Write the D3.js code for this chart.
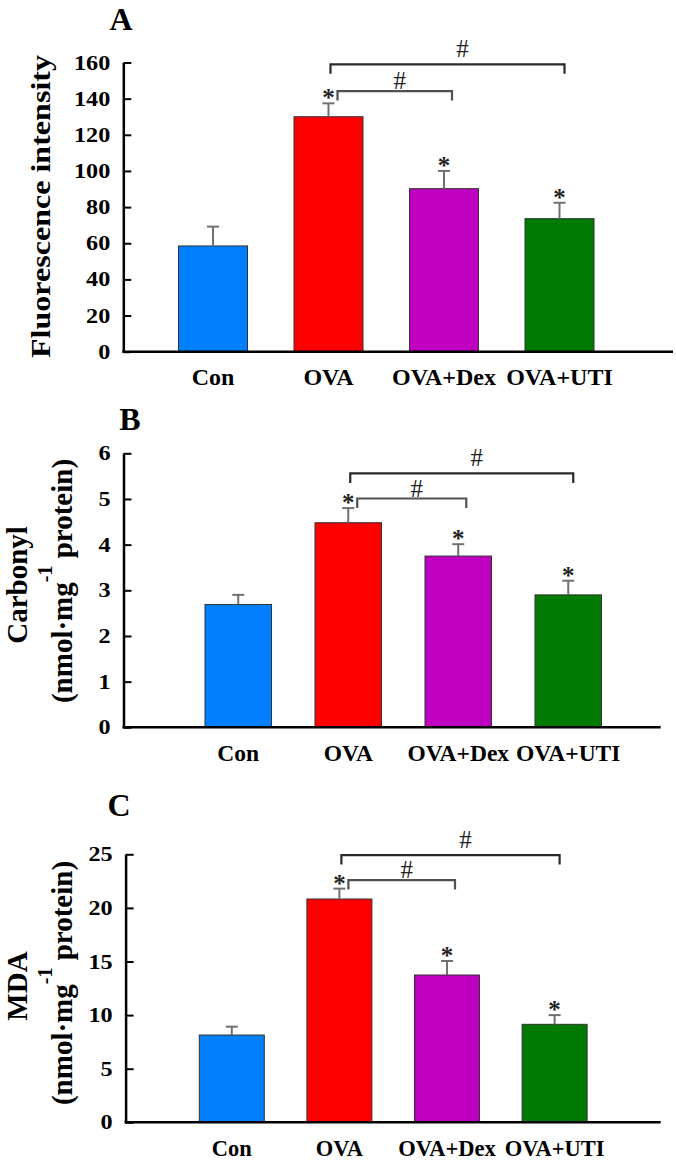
<!DOCTYPE html>
<html>
<head>
<meta charset="utf-8">
<script src="https://cdn.jsdelivr.net/npm/d3@7"></script>
<style>
  html, body { margin: 0; padding: 0; background: #fff; }
  svg { display: block; }
  text { font-family: "Liberation Serif", "Times New Roman", serif; }
</style>
</head>
<body>
<svg id="chart" width="676" height="1160"></svg>
<script>
// ---- data ----
const categories = ["Con", "OVA", "OVA+Dex", "OVA+UTI"];
const barColors = ["#0080ff", "#ff0000", "#c000c0", "#007a00"];

const fluorescence    = [58.5, 130.0, 90.2, 73.6];
const fluorescenceErr = [10.7, 7.4, 9.8, 8.8];
const fluorescenceTicks = [0, 20, 40, 60, 80, 100, 120, 140, 160];

const carbonyl    = [2.69, 4.48, 3.75, 2.90];
const carbonylErr = [0.21, 0.32, 0.26, 0.31];
const carbonylTicks = [0, 1, 2, 3, 4, 5, 6];

const mda    = [8.14, 20.83, 13.74, 9.14];
const mdaErr = [0.78, 0.97, 1.31, 0.86];
const mdaTicks = [0, 5, 10, 15, 20, 25];

// significance marks: "*" vs Con on groups; "#" brackets vs OVA
const starGroups = ["OVA", "OVA+Dex", "OVA+UTI"];
const brackets = [
  { from: "OVA", to: "OVA+UTI", level: "outer" },
  { from: "OVA", to: "OVA+Dex", level: "inner" }
];
const fluorescenceBracketLevels = { outer: 159.0, inner: 144.2 };
const carbonylBracketLevels     = { outer: 5.56, inner: 5.01 };
const mdaBracketLevels          = { outer: 24.93, inner: 22.6 };

// ---- layout ----
const panels = [
  { letter: "A", letterX: 121, letterY: 30,
    values: fluorescence, errs: fluorescenceErr, ticks: fluorescenceTicks, yMax: 160,
    bl: fluorescenceBracketLevels, xFont: 24,
    axisX: 123.3, xEnd: 673, yTop: 62.5, y0: 351.7,
    barL: 178.5, bw: 69, step: 115.5,
    ylabel: [{ text: "Fluorescence intensity", x: 50, y: 206.5, len: 303 }] },
  { letter: "B", letterX: 130, letterY: 430,
    values: carbonyl, errs: carbonylErr, ticks: carbonylTicks, yMax: 6,
    bl: carbonylBracketLevels, xFont: 23.5,
    axisX: 123.5, xEnd: 660.7, yTop: 453.3, y0: 727.3,
    barL: 205, bw: 66.5, step: 110,
    ylabel: [{ text: "Carbonyl", x: 27, y: 585 }, { unit: true, x: 72, y: 581 }] },
  { letter: "C", letterX: 119, letterY: 816,
    values: mda, errs: mdaErr, ticks: mdaTicks, yMax: 25,
    bl: mdaBracketLevels, xFont: 22.5,
    axisX: 125.6, xEnd: 660.7, yTop: 854.3, y0: 1122.3,
    barL: 199.3, bw: 65, step: 107.6,
    ylabel: [{ text: "MDA", x: 27, y: 986 }, { unit: true, x: 72, y: 983 }] }
];

const svg = d3.select("#chart");

panels.forEach(p => {
  const g = svg.append("g");
  const y = d3.scaleLinear().domain([0, p.yMax]).range([p.y0, p.yTop]);
  const pi = 1 - p.bw / p.step;
  const barR = p.barL + 3 * p.step + p.bw;
  const x = d3.scaleBand().domain(categories)
    .range([p.barL - (p.step - p.bw) / 2, barR + (p.step - p.bw) / 2])
    .paddingInner(pi).paddingOuter(pi / 2);
  const cx = c => x(c) + x.bandwidth() / 2;

  // panel letter
  g.append("text").attr("x", p.letterX).attr("y", p.letterY)
    .attr("text-anchor", "middle").attr("font-size", 32).attr("font-weight", "bold")
    .text(p.letter);

  // bars
  g.selectAll("rect.bar").data(categories).join("rect")
    .attr("class", "bar")
    .attr("x", d => x(d)).attr("width", x.bandwidth())
    .attr("y", (d, i) => y(p.values[i]))
    .attr("height", (d, i) => p.y0 - y(p.values[i]))
    .attr("fill", (d, i) => barColors[i])
    .attr("stroke", "#333").attr("stroke-width", 1);

  // error bars (upper only)
  const eb = g.append("g").attr("stroke", "#707070").attr("stroke-width", 2);
  categories.forEach((c, i) => {
    const top = y(p.values[i] + p.errs[i]);
    eb.append("line").attr("x1", cx(c)).attr("x2", cx(c))
      .attr("y1", y(p.values[i])).attr("y2", top);
    eb.append("line").attr("x1", cx(c) - 6).attr("x2", cx(c) + 6)
      .attr("y1", top).attr("y2", top);
  });

  // y axis
  const yAxis = d3.axisLeft(y).tickValues(p.ticks).tickFormat(d3.format("d"))
    .tickSizeInner(-8).tickSizeOuter(0).tickPadding(13);
  const ya = g.append("g").attr("transform", `translate(${p.axisX},0)`).call(yAxis);
  ya.select(".domain").attr("stroke", "#000").attr("stroke-width", 2.5);
  ya.selectAll(".tick line").attr("stroke", "#000").attr("stroke-width", 2);
  ya.selectAll(".tick text")
    .attr("font-family", "Liberation Serif, serif")
    .attr("font-size", 20.5).attr("font-weight", "bold").attr("fill", "#000")
    .each(function () {
      const w = this.getComputedTextLength();
      d3.select(this).attr("textLength", w * 1.18).attr("lengthAdjust", "spacingAndGlyphs");
    });

  // x axis line
  g.append("line").attr("x1", p.axisX - 1).attr("x2", p.xEnd)
    .attr("y1", p.y0).attr("y2", p.y0)
    .attr("stroke", "#000").attr("stroke-width", 2.5);

  // x labels
  const xAxis = d3.axisBottom(x).tickSize(0);
  const xa = g.append("g").attr("transform", `translate(0,${p.y0})`).call(xAxis);
  xa.select(".domain").remove();
  xa.selectAll(".tick text")
    .attr("y", 33.5).attr("dy", 0)
    .attr("font-family", "Liberation Serif, serif")
    .attr("font-size", p.xFont).attr("font-weight", "bold").attr("fill", "#000");

  // y label(s)
  p.ylabel.forEach(l => {
    const t = g.append("text")
      .attr("transform", `translate(${l.x},${l.y}) rotate(-90)`)
      .attr("text-anchor", "middle")
      .attr("font-weight", "bold");
    if (l.unit) {
      t.attr("font-size", 29);
      t.append("tspan").text("(nmol·mg");
      t.append("tspan").attr("font-size", 20).attr("dy", -20).text("-1");
      t.append("tspan").attr("dy", 20).text(" protein)");
    } else {
      t.attr("font-size", l.len ? 28 : 29).text(l.text);
      if (l.len) t.attr("textLength", l.len).attr("lengthAdjust", "spacingAndGlyphs");
    }
  });

  // stars
  starGroups.forEach(c => {
    const i = categories.indexOf(c);
    const top = y(p.values[i] + p.errs[i]);
    g.append("text").attr("x", cx(c)).attr("y", top + 3)
      .attr("text-anchor", "middle").attr("font-size", 25).attr("font-weight", "bold")
      .attr("fill", "#222")
      .text("*");
  });

  // brackets
  brackets.forEach(b => {
    const outer = b.level === "outer";
    const x1 = cx(b.from) + (outer ? 2 : 9);
    const x2 = cx(b.to) + (outer ? 5 : 8);
    const yy = y(p.bl[b.level]);
    g.append("path")
      .attr("d", `M${x1},${yy + 9.5}V${yy}H${x2}V${yy + 9.5}`)
      .attr("fill", "none")
      .attr("stroke", outer ? "#2a2a2a" : "#505050").attr("stroke-width", 2.2);
    g.append("text").attr("x", (x1 + x2) / 2 + (outer ? 15 : 5))
      .attr("y", yy - (outer ? 7 : 2))
      .attr("text-anchor", "middle").attr("font-size", 25).attr("fill", "#222")
      .text("#");
  });
});
</script>
</body>
</html>
